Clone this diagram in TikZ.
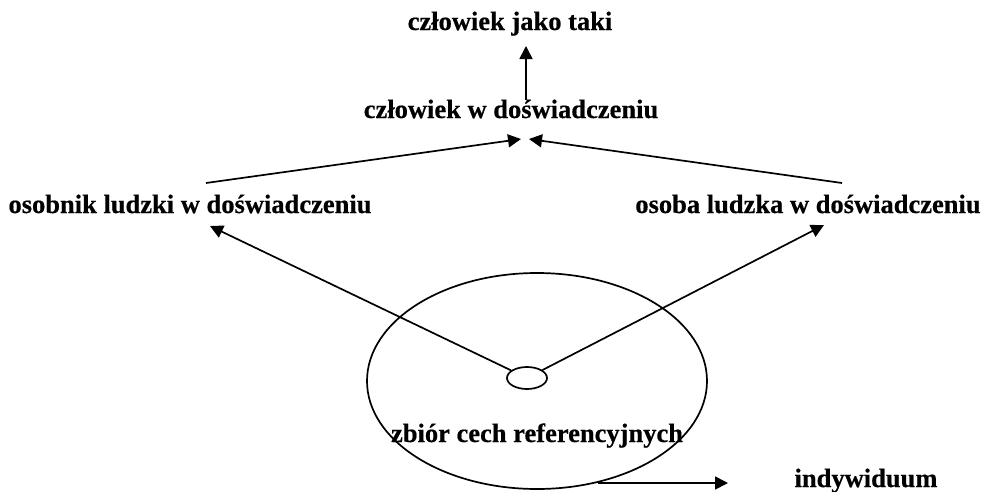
\documentclass[tikz,border=0pt]{standalone}
\usepackage{fontspec}
\setmainfont{Liberation Serif}[BoldFeatures={FakeBold=0.5}]
\usetikzlibrary{arrows.meta,shapes.geometric}
\tikzset{
  lbl/.style={anchor=base, inner sep=0pt, font=\fontsize{26.5}{30}\selectfont\bfseries},
  conn/.style={line width=1.7pt, -{Triangle[length=13pt,width=13pt]}},
  ring/.style={draw, ellipse, line width=1.7pt, inner sep=0pt}
}
\begin{document}
\begin{tikzpicture}[x=1pt, y=-1pt]
  \useasboundingbox (0,0) rectangle (991,491);

  % labels
  \node[lbl] (top)   at (510,30)  {człowiek jako taki};
  \node[lbl] (exp)   at (511,118) {człowiek w doświadczeniu};
  \node[lbl] (indiv) at (190,213) {osobnik ludzki w doświadczeniu};
  \node[lbl] (pers)  at (808,213) {osoba ludzka w doświadczeniu};

  % set of reference features
  \node[ring, minimum width=340pt, minimum height=216pt] (big) at (537,381) {};
  \node[ring, minimum width=40pt, minimum height=22pt] (small) at (527,378) {};
  \node[lbl] (feat)  at (537,442) {zbiór cech referencyjnych};
  \node[lbl] (indw)  at (866,487) {indywiduum};

  % free ends of the connectors
  \coordinate (upS) at (526,100);
  \coordinate (upE) at (526,46);
  \coordinate (lS)  at (206,183);
  \coordinate (lE)  at (521,139);
  \coordinate (rS)  at (842,183);
  \coordinate (rE)  at (529,139);
  \coordinate (indT) at (210,226);
  \coordinate (perT) at (824,225);
  \coordinate (bS)  at (598,483);
  \coordinate (bE)  at (728,483);

  \draw[conn] (upS) -- (upE);
  \draw[conn] (lS) -- (lE);
  \draw[conn] (rS) -- (rE);
  \draw[conn] (small) -- (indT);
  \draw[conn] (small) -- (perT);
  \draw[conn] (bS) -- (bE);
\end{tikzpicture}
\end{document}
